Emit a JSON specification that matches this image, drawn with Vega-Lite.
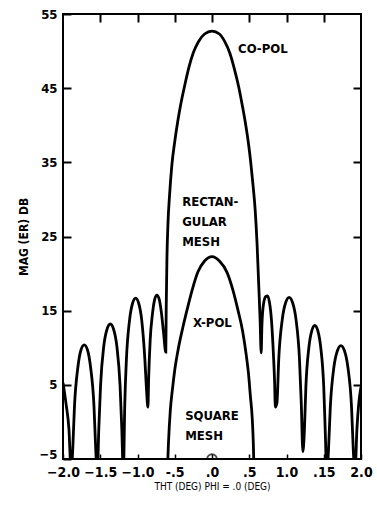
{
  "$schema": "https://vega.github.io/schema/vega-lite/v6.json",
  "autosize": "none",
  "width": 298,
  "height": 445,
  "padding": {"left": 63, "top": 14, "right": 16, "bottom": 46},
  "background": "white",
  "config": {
    "view": {"stroke": "black", "strokeWidth": 2},
    "font": "DejaVu Sans Condensed"
  },
  "datasets": {
    "copol": [
      {"x": -2.0, "y": 5.3}, {"x": -1.96, "y": 2.5}, {"x": -1.92, "y": -1}, {"x": -1.89, "y": -7},
      {"x": -1.869, "y": -3.6}, {"x": -1.846, "y": 2.1}, {"x": -1.8, "y": 7.4}, {"x": -1.759, "y": 9.7}, {"x": -1.715, "y": 10.4}, {"x": -1.671, "y": 9.7}, {"x": -1.63, "y": 7.4}, {"x": -1.584, "y": 2.1}, {"x": -1.561, "y": -3.6}, {"x": -1.54, "y": -7},
      {"x": -1.519, "y": -0.8}, {"x": -1.496, "y": 4.9}, {"x": -1.453, "y": 10.2}, {"x": -1.409, "y": 12.5}, {"x": -1.365, "y": 13.2}, {"x": -1.321, "y": 12.5}, {"x": -1.277, "y": 10.2}, {"x": -1.234, "y": 4.9}, {"x": -1.211, "y": -0.8}, {"x": -1.19, "y": -7},
      {"x": -1.17, "y": 2.7}, {"x": -1.149, "y": 8.4}, {"x": -1.107, "y": 13.7}, {"x": -1.066, "y": 16}, {"x": -1.025, "y": 16.7}, {"x": -0.984, "y": 16}, {"x": -0.943, "y": 13.7}, {"x": -0.901, "y": 8.4}, {"x": -0.88, "y": 4.5}, {"x": -0.86, "y": 2},
      {"x": -0.85, "y": 6}, {"x": -0.83, "y": 11}, {"x": -0.8, "y": 14.5}, {"x": -0.77, "y": 16.5}, {"x": -0.74, "y": 17.1}, {"x": -0.71, "y": 16.6}, {"x": -0.68, "y": 14.8}, {"x": -0.65, "y": 12}, {"x": -0.62, "y": 9.4},
      {"x": -0.615, "y": 15}, {"x": -0.605, "y": 22}, {"x": -0.59, "y": 27}, {"x": -0.57, "y": 30.5}, {"x": -0.54, "y": 34.5}, {"x": -0.5, "y": 37.8}, {"x": -0.46, "y": 40.5}, {"x": -0.42, "y": 42.8}, {"x": -0.37, "y": 45.2}, {"x": -0.31, "y": 47.8}, {"x": -0.25, "y": 49.8}, {"x": -0.18, "y": 51.3}, {"x": -0.1, "y": 52.3}, {"x": 0, "y": 52.7}, {"x": 0.1, "y": 52.3}, {"x": 0.17, "y": 51.3}, {"x": 0.24, "y": 49.7}, {"x": 0.3, "y": 47.6}, {"x": 0.36, "y": 45.1}, {"x": 0.41, "y": 42.5}, {"x": 0.45, "y": 40.2}, {"x": 0.49, "y": 37.5}, {"x": 0.52, "y": 35}, {"x": 0.55, "y": 32}, {"x": 0.58, "y": 28.5}, {"x": 0.605, "y": 24}, {"x": 0.625, "y": 19}, {"x": 0.645, "y": 14}, {"x": 0.66, "y": 9.3},
      {"x": 0.67, "y": 13}, {"x": 0.69, "y": 15.8}, {"x": 0.72, "y": 16.9}, {"x": 0.745, "y": 17}, {"x": 0.77, "y": 16.2}, {"x": 0.8, "y": 13.5}, {"x": 0.825, "y": 9}, {"x": 0.84, "y": 5.5}, {"x": 0.85, "y": 2},
      {"x": 0.872, "y": 2.6}, {"x": 0.896, "y": 8.5}, {"x": 0.943, "y": 13.8}, {"x": 0.989, "y": 16.1}, {"x": 1.035, "y": 16.8}, {"x": 1.081, "y": 16.1}, {"x": 1.128, "y": 13.8}, {"x": 1.174, "y": 8.5}, {"x": 1.198, "y": 2.6}, {"x": 1.22, "y": -4},
      {"x": 1.24, "y": -1.2}, {"x": 1.26, "y": 4.7}, {"x": 1.3, "y": 10}, {"x": 1.34, "y": 12.3}, {"x": 1.38, "y": 13}, {"x": 1.42, "y": 12.3}, {"x": 1.46, "y": 10}, {"x": 1.5, "y": 4.7}, {"x": 1.52, "y": -1.2}, {"x": 1.54, "y": -7},
      {"x": 1.563, "y": -3.9}, {"x": 1.588, "y": 2}, {"x": 1.635, "y": 7.3}, {"x": 1.683, "y": 9.6}, {"x": 1.73, "y": 10.3}, {"x": 1.778, "y": 9.6}, {"x": 1.825, "y": 7.3}, {"x": 1.873, "y": 2}, {"x": 1.897, "y": -3.9}, {"x": 1.92, "y": -7},
      {"x": 1.945, "y": -1}, {"x": 1.97, "y": 2.5}, {"x": 2.0, "y": 4.7}
    ],
    "xpol": [
      {"x": -0.6, "y": -7}, {"x": -0.585, "y": -3}, {"x": -0.56, "y": 1.5}, {"x": -0.53, "y": 4.5}, {"x": -0.5, "y": 7}, {"x": -0.45, "y": 10}, {"x": -0.39, "y": 12.8}, {"x": -0.33, "y": 15.3}, {"x": -0.26, "y": 18}, {"x": -0.19, "y": 20.2}, {"x": -0.1, "y": 21.7}, {"x": 0, "y": 22.3}, {"x": 0.1, "y": 21.7}, {"x": 0.2, "y": 20.2}, {"x": 0.28, "y": 17.8}, {"x": 0.35, "y": 15}, {"x": 0.41, "y": 12.3}, {"x": 0.46, "y": 9}, {"x": 0.49, "y": 6.5}, {"x": 0.515, "y": 3.5}, {"x": 0.54, "y": 0.5}, {"x": 0.555, "y": -3}, {"x": 0.565, "y": -7}
    ],
    "labels": [
      {"text": "CO-POL", "x": 0.35, "y": 50.3},
      {"text": "RECTAN-", "x": -0.4, "y": 29.7},
      {"text": "GULAR", "x": -0.4, "y": 27.0},
      {"text": "MESH", "x": -0.4, "y": 24.3},
      {"text": "X-POL", "x": -0.255, "y": 13.4},
      {"text": "SQUARE", "x": -0.36, "y": 0.8},
      {"text": "MESH", "x": -0.36, "y": -1.9}
    ],
    "marker": [{"x": 0, "y": -5}]
  },
  "layer": [
    {
      "data": {"name": "copol"},
      "mark": {"type": "line", "color": "black", "strokeWidth": 2.8, "clip": true, "interpolate": "monotone"},
      "encoding": {
        "x": {"field": "x", "type": "quantitative",
              "scale": {"domain": [-2, 2], "nice": false, "zero": false},
              "axis": {"orient": "bottom", "values": [-2, -1.5, -1, -0.5, 0, 0.5, 1, 1.5, 2],
                       "labelExpr": "datum.value == 1.5 ? '.15' : datum.value == 0 ? '.0' : datum.value == 0.5 ? '.5' : datum.value == -0.5 ? '-.5' : format(datum.value, '.1f')",
                       "grid": false, "domain": false, "tickSize": -5, "tickColor": "black", "tickWidth": 1.5,
                       "labelFont": "DejaVu Sans Condensed", "labelFontSize": 14, "labelFontWeight": "bold", "labelColor": "black", "labelPadding": 11, "labelFlush": false,
                       "title": "THT (DEG) PHI = .0 (DEG)", "titleFont": "DejaVu Sans Condensed", "titleFontSize": 10, "titleFontWeight": "normal", "titleColor": "black", "titlePadding": 2}},
        "y": {"field": "y", "type": "quantitative",
              "scale": {"domain": [-5, 55], "nice": false, "zero": false},
              "axis": {"orient": "left", "values": [-5, 5, 15, 25, 35, 45, 55],
                       "grid": false, "domain": false, "tickSize": -8, "tickColor": "black", "tickWidth": 2,
                       "labelFont": "DejaVu Sans Condensed", "labelFontSize": 13, "labelFontWeight": "bold", "labelColor": "black", "labelPadding": 14, "labelFlush": false,
                       "labelOffset": {"condition": {"test": "datum.value == -5", "value": -5}, "value": 0},
                       "title": "MAG (ER) DB", "titleFont": "DejaVu Sans Condensed", "titleFontSize": 12, "titleFontWeight": "bold", "titleColor": "black", "titlePadding": 9}}
      }
    },
    {
      "data": {"name": "xpol"},
      "mark": {"type": "line", "color": "black", "strokeWidth": 2.8, "clip": true, "interpolate": "monotone"},
      "encoding": {
        "x": {"field": "x", "type": "quantitative",
              "axis": {"orient": "top", "values": [-1.5, -1, -0.5, 0, 0.5, 1, 1.5], "labels": false, "grid": false, "domain": false,
                       "tickSize": -8, "tickColor": "black", "tickWidth": 2, "title": null}},
        "y": {"field": "y", "type": "quantitative",
              "axis": {"orient": "right", "values": [5, 15, 25, 35, 45], "labels": false, "grid": false, "domain": false,
                       "tickSize": -8, "tickColor": "black", "tickWidth": 2, "title": null}}
      }
    },
    {
      "data": {"name": "labels"},
      "mark": {"type": "text", "align": "left", "baseline": "middle", "font": "DejaVu Sans Condensed", "fontSize": 13, "fontWeight": "bold", "color": "black"},
      "encoding": {
        "x": {"field": "x", "type": "quantitative", "axis": null},
        "y": {"field": "y", "type": "quantitative", "axis": null},
        "text": {"field": "text"}
      }
    },
    {
      "data": {"name": "marker"},
      "mark": {"type": "point", "shape": "circle", "filled": false, "color": "black", "strokeWidth": 2, "size": 90, "clip": true},
      "encoding": {
        "x": {"field": "x", "type": "quantitative", "axis": null},
        "y": {"field": "y", "type": "quantitative", "axis": null}
      }
    }
  ],
  "resolve": {"axis": {"x": "independent", "y": "independent"}}
}
